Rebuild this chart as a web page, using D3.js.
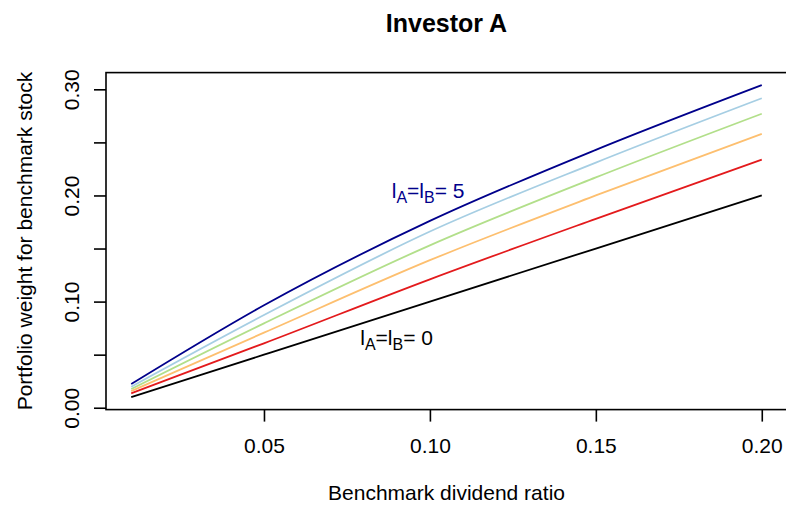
<!DOCTYPE html>
<html>
<head>
<meta charset="utf-8">
<script src="https://cdn.jsdelivr.net/npm/d3@7"></script>
<style>
  body { margin: 0; background: #fff; }
  svg text { font-family: "Liberation Sans", Arial, sans-serif; }
</style>
</head>
<body>
<div id="chart"></div>
<script>
// dividend ratio (x) and portfolio weight per l value
const dividendRatio = [0.01, 0.05, 0.10, 0.15, 0.20];
const weightL0 = [0.0100, 0.0500, 0.1000, 0.1500, 0.2000];
const weightL1 = [0.0136, 0.0607, 0.1210, 0.1780, 0.2337];
const weightL2 = [0.0157, 0.0707, 0.1390, 0.2000, 0.2580];
const weightL3 = [0.0176, 0.0795, 0.1530, 0.2170, 0.2770];
const weightL4 = [0.0198, 0.0873, 0.1660, 0.2310, 0.2916];
const weightL5 = [0.0223, 0.0965, 0.1760, 0.2430, 0.3040];
const seriesColors = ["#000000", "#E31A1C", "#FDBF6F", "#B2DF8A", "#A6CEE3", "#00008B"];

const xTicks = [0.05, 0.10, 0.15, 0.20];
const xTickLabels = ["0.05", "0.10", "0.15", "0.20"];
const yTicks = [0.00, 0.05, 0.10, 0.15, 0.20, 0.25, 0.30];
const yTickLabels = ["0.00", "", "0.10", "", "0.20", "", "0.30"];

const w = 786, h = 505;
const mLeft = 106, mRight = 787, mTop = 72.6, mBottom = 409.6;

const svg = d3.select("#chart").append("svg")
  .attr("width", w).attr("height", h);

const allSeries = [weightL0, weightL1, weightL2, weightL3, weightL4, weightL5];

// R style 4% padding on the data range
const xMin = d3.min(dividendRatio), xMax = d3.max(dividendRatio);
const yMin = d3.min(allSeries.flat()), yMax = d3.max(allSeries.flat());
const xPad = (xMax - xMin) * 0.04, yPad = (yMax - yMin) * 0.04;

const x = d3.scaleLinear().domain([xMin - xPad, xMax + xPad]).range([mLeft, mRight]);
const y = d3.scaleLinear().domain([yMin - yPad, yMax + yPad]).range([mBottom, mTop]);

const line = d3.line()
  .x((d, i) => x(dividendRatio[i]))
  .y(d => y(d))
  .curve(d3.curveMonotoneX);

allSeries.forEach(function(s, i) {
  svg.append("path")
    .attr("d", line(s))
    .attr("fill", "none")
    .attr("stroke", seriesColors[i])
    .attr("stroke-width", 1.8);
});

// box
svg.append("rect")
  .attr("x", mLeft).attr("y", mTop)
  .attr("width", mRight - mLeft).attr("height", mBottom - mTop)
  .attr("fill", "none").attr("stroke", "#000").attr("stroke-width", 1.6);

// x axis
const xAxis = d3.axisBottom(x).tickValues(xTicks)
  .tickFormat((d, i) => xTickLabels[i])
  .tickSize(12).tickSizeOuter(0);
const gx = svg.append("g").attr("transform", `translate(0, ${mBottom})`).call(xAxis);
gx.select(".domain").remove();
gx.selectAll("line").attr("stroke", "#000").attr("stroke-width", 1.6);
gx.selectAll("text").attr("y", 43).attr("dy", 0)
  .style("font-size", "21px").attr("fill", "#000");

// y axis
const yAxis = d3.axisLeft(y).tickValues(yTicks)
  .tickFormat((d, i) => yTickLabels[i])
  .tickSize(12).tickSizeOuter(0);
const gy = svg.append("g").attr("transform", `translate(${mLeft}, 0)`).call(yAxis);
gy.select(".domain").remove();
gy.selectAll("line").attr("stroke", "#000").attr("stroke-width", 1.6);
gy.selectAll("text")
  .attr("x", 0).attr("dy", 0)
  .attr("transform", "translate(-27, 0) rotate(-90)")
  .style("text-anchor", "middle")
  .style("font-size", "21px").attr("fill", "#000");

// titles
svg.append("text")
  .attr("x", (mLeft + mRight) / 2).attr("y", 32)
  .style("text-anchor", "middle").style("font-size", "25px").style("font-weight", "bold")
  .text("Investor A");

svg.append("text")
  .attr("x", (mLeft + mRight) / 2).attr("y", 500)
  .style("text-anchor", "middle").style("font-size", "21px")
  .text("Benchmark dividend ratio");

svg.append("text")
  .attr("transform", `translate(32, ${(mTop + mBottom) / 2}) rotate(-90)`)
  .style("text-anchor", "middle").style("font-size", "21px")
  .text("Portfolio weight for benchmark stock");

// annotations
function subLabel(xv, yv, val, color) {
  const t = svg.append("text")
    .attr("x", x(xv)).attr("y", y(yv))
    .attr("fill", color).style("font-size", "21px");
  t.append("tspan").text("l");
  t.append("tspan").attr("dy", 5).style("font-size", "16px").text("A");
  t.append("tspan").attr("dy", -5).text("=l");
  t.append("tspan").attr("dy", 5).style("font-size", "16px").text("B");
  t.append("tspan").attr("dy", -5).text("= " + val);
}
subLabel(0.0885, 0.198, 5, "#00008B");
subLabel(0.0790, 0.059, 0, "#000000");
</script>
</body>
</html>
